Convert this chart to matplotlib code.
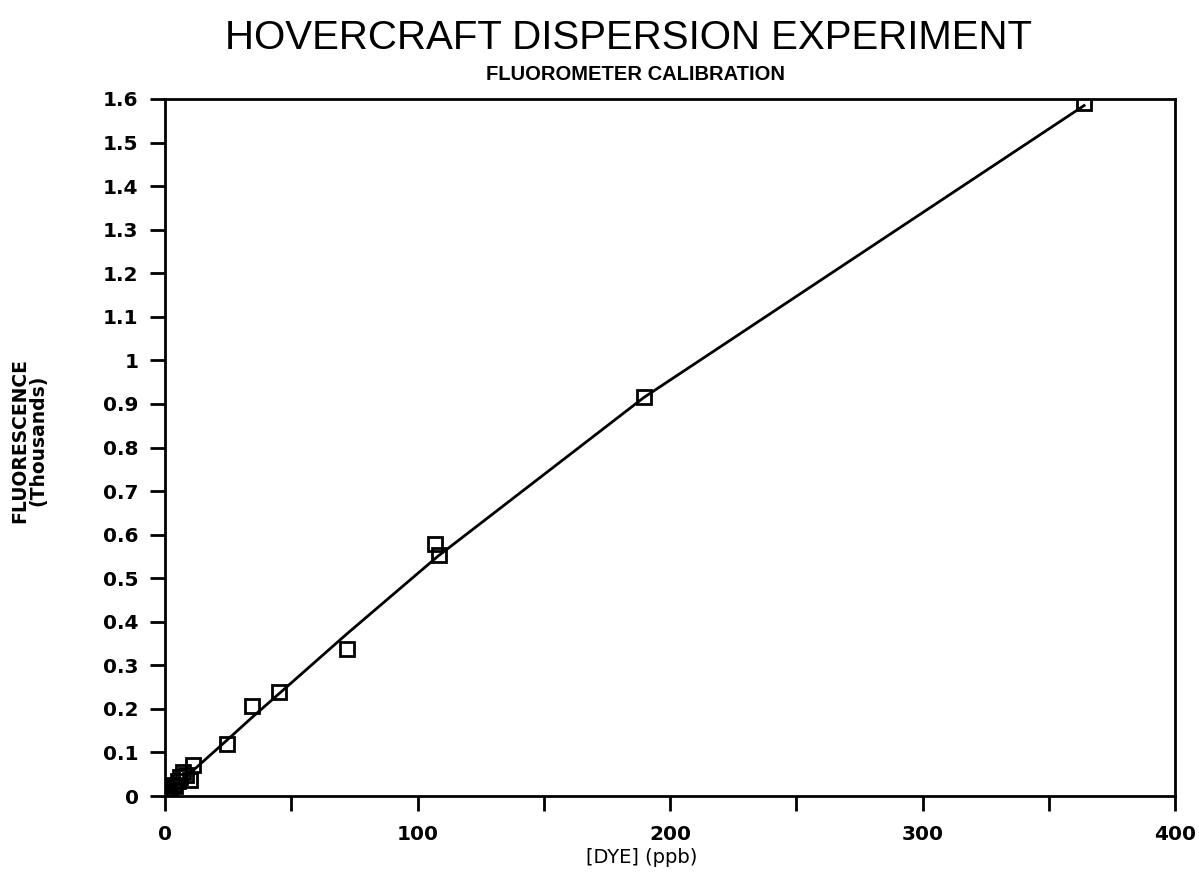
import numpy as np
import matplotlib
matplotlib.use("Agg")
import matplotlib.pyplot as plt

# calibration points: dye (ppb) vs fluorescence (thousands)
dye = [0.0, 0.5, 1.0, 2.0, 3.0, 4.0, 5.0, 6.0, 7.0, 8.5, 10.0, 11.0, 24.5, 34.4, 45.0, 72.0, 107.0, 108.7, 189.7, 364.0]
fluor = [0.003, 0.008, 0.012, 0.016, 0.025, 0.022, 0.035, 0.044, 0.055, 0.048, 0.036, 0.071, 0.119, 0.206, 0.239, 0.337, 0.578, 0.553, 0.915, 1.590]

# fitted calibration curve
fit_x = [0.0, 11.0, 24.5, 34.4, 45.0, 72.0, 108.0, 189.7, 364.0]
fit_y = [0.0, 0.058, 0.128, 0.180, 0.234, 0.372, 0.550, 0.915, 1.585]

yticks = [0, 0.1, 0.2, 0.3, 0.4, 0.5, 0.6, 0.7, 0.8, 0.9, 1.0, 1.1, 1.2, 1.3, 1.4, 1.5, 1.6]
ylabels = ['0', '0.1', '0.2', '0.3', '0.4', '0.5', '0.6', '0.7', '0.8', '0.9', '1',
           '1.1', '1.2', '1.3', '1.4', '1.5', '1.6']
xticks = [0, 50, 100, 150, 200, 250, 300, 350, 400]
xlabels = ['0', '', '100', '', '200', '', '300', '', '400']

fig = plt.figure(figsize=(11.99, 8.90), dpi=100)
ax = fig.add_axes([165 / 1199, 1 - 796 / 890, 1010 / 1199, 697 / 890])

ax.plot(fit_x, fit_y, '-', color='black', lw=2)
ax.plot(dye, fluor, 's', ms=10, mfc='none', mec='black', mew=2)

ax.set_xlim(0, 400)
ax.set_ylim(0, 1.6)
ax.set_xticks(xticks)
ax.set_xticklabels(xlabels)
ax.set_yticks(yticks)
ax.set_yticklabels(ylabels)
ax.tick_params(direction='out', length=11, width=2, labelsize=14.5, pad=8)
ax.tick_params(axis='x', pad=10)
for lab in ax.get_xticklabels() + ax.get_yticklabels():
    lab.set_fontweight('bold')
for s in ax.spines.values():
    s.set_linewidth(2)

fig.text(0.524, 0.957, 'HOVERCRAFT DISPERSION EXPERIMENT', ha='center', va='center',
         fontsize=29, family='Liberation Sans')
fig.text(0.530, 0.916, 'FLUOROMETER CALIBRATION', ha='center', va='center',
         fontsize=14.5, fontweight='bold', family='Liberation Sans')
fig.text(0.535, 0.037, '[DYE] (ppb)', ha='center', va='center', fontsize=14)
fig.text(0.024, 0.505, 'FLUORESCENCE\n(Thousands)', ha='center', va='center',
         rotation=90, fontsize=13.5, fontweight='bold', linespacing=1.0)

fig.savefig('out.png', dpi=100)
